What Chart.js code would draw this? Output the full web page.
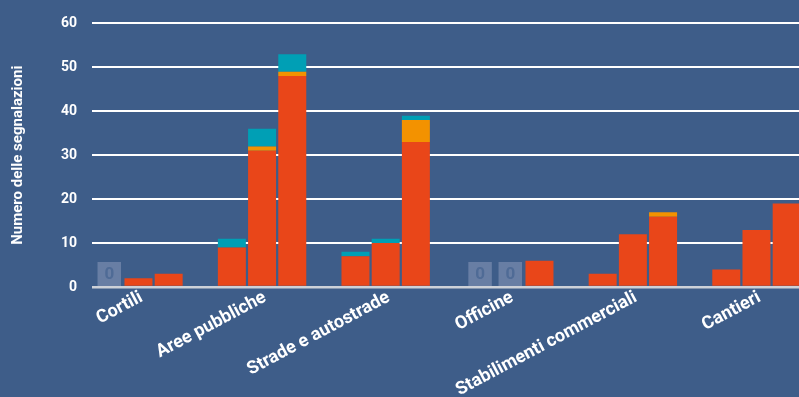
<!DOCTYPE html>
<html>
<head>
<meta charset="utf-8">
<script src="https://cdn.jsdelivr.net/npm/chart.js@4.4.1/dist/chart.umd.min.js"></script>
<style>
  html, body { margin: 0; padding: 0; background: #3e5d89; overflow: hidden; }
  #wrap { width: 799px; height: 397px; position: relative; }
</style>
</head>
<body>
<div id="wrap"><canvas id="chart"></canvas></div>
<script>
// Categories along the x axis
const categories = ['Cortili', 'Aree pubbliche', 'Strade e autostrade', 'Officine', 'Stabilimenti commerciali', 'Cantieri'];

// Three bars per category; each bar stacks three components
const stackIds = ['a', 'b', 'c'];

const redA    = [0, 9, 7, 0, 3, 4];
const orangeA = [0, 0, 0, 0, 0, 0];
const tealA   = [0, 2, 1, 0, 0, 0];

const redB    = [2, 31, 10, 0, 12, 13];
const orangeB = [0, 1, 0, 0, 0, 0];
const tealB   = [0, 4, 1, 0, 0, 0];

const redC    = [3, 48, 33, 6, 16, 19];
const orangeC = [0, 1, 5, 0, 1, 0];
const tealC   = [0, 4, 1, 0, 0, 0];

const yTicks = [0, 10, 20, 30, 40, 50, 60];
const yTitle = 'Numero delle segnalazioni';

const COLORS = { red: '#e94619', orange: '#f39200', teal: '#009fb5' };
const FONT = 'Roboto, "DejaVu Sans", sans-serif';

const seriesByStack = {
  a: [redA, orangeA, tealA],
  b: [redB, orangeB, tealB],
  c: [redC, orangeC, tealC]
};
const partColors = [COLORS.red, COLORS.orange, COLORS.teal];

const datasets = [];
stackIds.forEach(sid => {
  seriesByStack[sid].forEach((values, p) => {
    datasets.push({
      stack: sid,
      data: values.map((v, i) => ({ x: i, y: v })),
      backgroundColor: partColors[p],
      borderWidth: 0,
      categoryPercentage: 0.733,
      barPercentage: 0.927
    });
  });
});

// Grey "0" badges for bars whose whole stack is empty
const zeroBadges = {
  id: 'zeroBadges',
  afterDatasetsDraw(chart) {
    const ctx = chart.ctx;
    const base = chart.scales.y.getPixelForValue(0);
    stackIds.forEach(sid => {
      const idx = chart.data.datasets.findIndex(d => d.stack === sid);
      const meta = chart.getDatasetMeta(idx);
      categories.forEach((c, i) => {
        const total = seriesByStack[sid].reduce((s, arr) => s + arr[i], 0);
        if (total !== 0) return;
        const el = meta.data[i];
        const w = el.width - 4.5;
        const h = 24;
        const x0 = el.x - w / 2 + 1;
        const y0 = base - 1 - h;
        ctx.save();
        ctx.fillStyle = '#687ea4';
        ctx.fillRect(x0, y0, w, h);
        ctx.fillStyle = '#4f6b96';
        ctx.font = 'bold 17px ' + FONT;
        ctx.textAlign = 'center';
        ctx.textBaseline = 'middle';
        ctx.fillText('0', x0 + w / 2, y0 + h / 2 + 1);
        ctx.restore();
      });
    });
  }
};

new Chart(document.getElementById('chart'), {
  type: 'bar',
  data: { datasets },
  plugins: [zeroBadges],
  options: {
    responsive: true,
    maintainAspectRatio: false,
    animation: false,
    devicePixelRatio: 1,
    layout: { padding: { top: 18, right: 0, bottom: 0, left: 0 } },
    plugins: { legend: { display: false }, tooltip: { enabled: false } },
    scales: {
      x: {
        type: 'linear',
        stacked: true,
        offset: false,
        min: -0.376,
        max: 5.344,
        grid: { display: false },
        border: { display: false },
        afterFit(scale) { scale.height = 110; },
        ticks: {
          stepSize: 1,
          includeBounds: false,
          autoSkip: false,
          minRotation: 28,
          maxRotation: 28,
          padding: -8,
          labelOffset: 3,
          color: '#ffffff',
          font: { family: FONT, size: 18, weight: 'bold' },
          callback: v => Number.isInteger(v) ? categories[v] : ''
        }
      },
      y: {
        stacked: true,
        min: yTicks[0],
        max: yTicks[yTicks.length - 1],
        afterFit(scale) { scale.width = 92; },
        afterBuildTicks(scale) { scale.ticks = yTicks.map(v => ({ value: v })); },
        border: { display: false },
        grid: {
          drawTicks: false,
          color: ctx => ctx.tick && ctx.tick.value === 0 ? '#cdd1d8' : '#ffffff',
          lineWidth: ctx => ctx.tick && ctx.tick.value === 0 ? 2.5 : 2
        },
        ticks: {
          padding: 15,
          color: '#ffffff',
          font: { family: FONT, size: 14, weight: 'bold' }
        },
        title: {
          display: true,
          text: yTitle,
          color: '#ffffff',
          padding: { top: 9, bottom: 0 },
          font: { family: FONT, size: 15, weight: 'bold' }
        }
      }
    }
  }
});
</script>
</body>
</html>
